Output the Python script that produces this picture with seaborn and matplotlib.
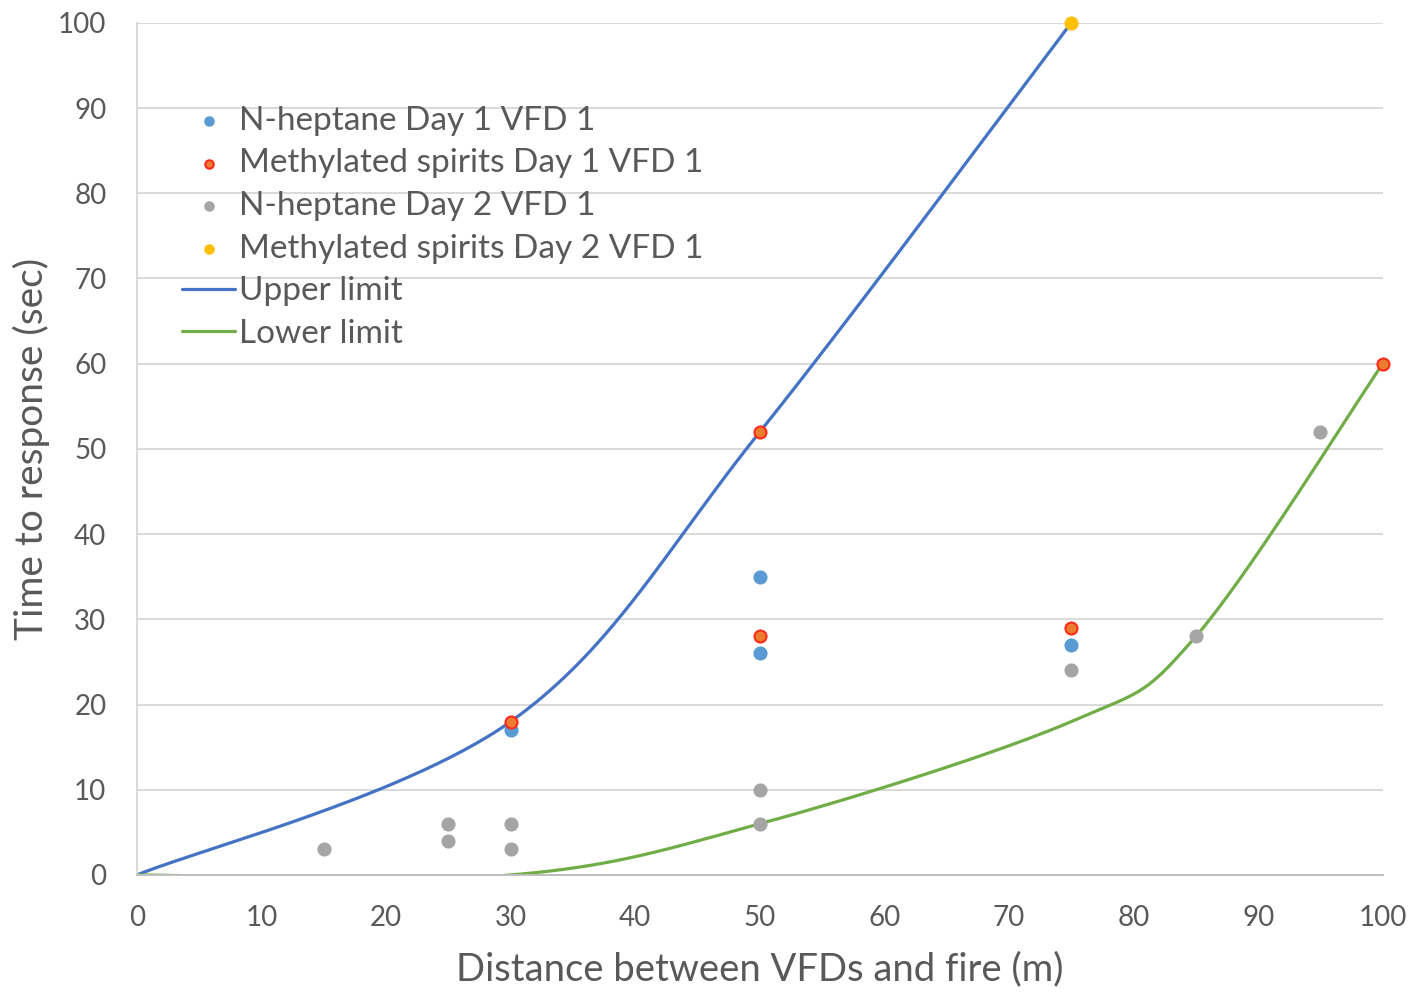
import numpy as np
import pandas as pd
import matplotlib
matplotlib.use("Agg")
import matplotlib.pyplot as plt
import seaborn as sns

# measured points
hep1_x = [30, 50, 50, 75]
hep1_y = [17, 35, 26, 27]
meth1_x = [30, 50, 50, 75, 100]
meth1_y = [18, 52, 28, 29, 60]
hep2_x = [15, 25, 25, 30, 30, 50, 50, 75, 85, 95]
hep2_y = [3, 6, 4, 6, 3, 10, 6, 24, 28, 52]
meth2_x = [75]
meth2_y = [100]

# limit curves (nodes, smoothed like excel)
upper_x = [0, 30, 50, 75]
upper_y = [0, 18, 52, 100]
lower_x = [0, 30, 50, 75, 85, 100]
lower_y = [0, 0, 6, 18, 28, 60]

series_names = ["N-heptane Day 1 VFD 1", "Methylated spirits Day 1 VFD 1",
                "N-heptane Day 2 VFD 1", "Methylated spirits Day 2 VFD 1"]


def smooth(xs, ys, n=60):
    p = np.column_stack([xs, ys]).astype(float)
    p = np.vstack([p[0], p, p[-1]])
    out = []
    for i in range(1, len(p) - 2):
        p0, p1, p2, p3 = p[i - 1], p[i], p[i + 1], p[i + 2]
        c1 = p1 + (p2 - p0) / 6
        c2 = p2 - (p3 - p1) / 6
        t = np.linspace(0, 1, n)[:, None]
        b = (1 - t) ** 3 * p1 + 3 * (1 - t) ** 2 * t * c1 + 3 * (1 - t) * t ** 2 * c2 + t ** 3 * p2
        out.append(b)
    out = np.vstack(out)
    return out[:, 0], out[:, 1]


pts = pd.concat([
    pd.DataFrame({"x": hep1_x, "y": hep1_y, "series": series_names[0]}),
    pd.DataFrame({"x": meth1_x, "y": meth1_y, "series": series_names[1]}),
    pd.DataFrame({"x": hep2_x, "y": hep2_y, "series": series_names[2]}),
    pd.DataFrame({"x": meth2_x, "y": meth2_y, "series": series_names[3]}),
])

sns.set_style("white")
plt.rcParams["font.family"] = ["Lato", "DejaVu Sans"]
txt = "#595959"

fig = plt.figure(figsize=(14.27, 9.92), dpi=100)
ax = fig.add_axes([0.096, 0.118, 0.873, 0.859])

ux, uy = smooth(upper_x, upper_y)
lx, ly = smooth(lower_x, lower_y)
sns.lineplot(x=ux, y=uy, sort=False, color="#4472C4", linewidth=2.3, ax=ax, label="Upper limit", zorder=2)
sns.lineplot(x=lx, y=ly, sort=False, color="#70AD47", linewidth=2.3, ax=ax, label="Lower limit", zorder=2)

colors = ["#5B9BD5", "#ED7D31", "#A5A5A5", "#FFC000"]
edges = ["#5B9BD5", "#FF2A1A", "#A5A5A5", "#FFC000"]
for name, c, e in zip(series_names, colors, edges):
    d = pts[pts["series"] == name]
    sns.scatterplot(data=d, x="x", y="y", color=c, edgecolor=e, linewidth=1.5,
                    s=75, ax=ax, label=name, zorder=3, clip_on=False)

ax.set_xlim(0, 100)
ax.set_ylim(0, 100)
ax.set_xticks(range(0, 101, 10))
ax.set_yticks(range(0, 101, 10))
ax.grid(axis="y", color="#D9D9D9", linewidth=1.4)
ax.set_axisbelow(True)
for s in ["top", "right"]:
    ax.spines[s].set_visible(False)
ax.spines["left"].set_color("#D9D9D9")
ax.spines["bottom"].set_color("#BFBFBF")
ax.spines["left"].set_linewidth(1.4)
ax.spines["bottom"].set_linewidth(1.4)
ax.tick_params(length=0, labelsize=20, labelcolor=txt)
ax.tick_params(axis="x", pad=22)
ax.tick_params(axis="y", pad=22)
ax.set_xlabel("Distance between VFDs and fire (m)", fontsize=27.5, color=txt, labelpad=14)
ax.set_ylabel("Time to response (sec)", fontsize=28, color=txt, labelpad=6)

h, l = ax.get_legend_handles_labels()
order = [l.index(n) for n in series_names + ["Upper limit", "Lower limit"]]
leg = ax.legend([h[i] for i in order], [l[i] for i in order], loc="upper left",
                bbox_to_anchor=(0.012, 0.938), frameon=False, fontsize=24,
                labelspacing=0.38, handlelength=1.6, handletextpad=0.1, markerscale=0.7)
for t in leg.get_texts():
    t.set_color(txt)

fig.savefig("out.png", dpi=100)
